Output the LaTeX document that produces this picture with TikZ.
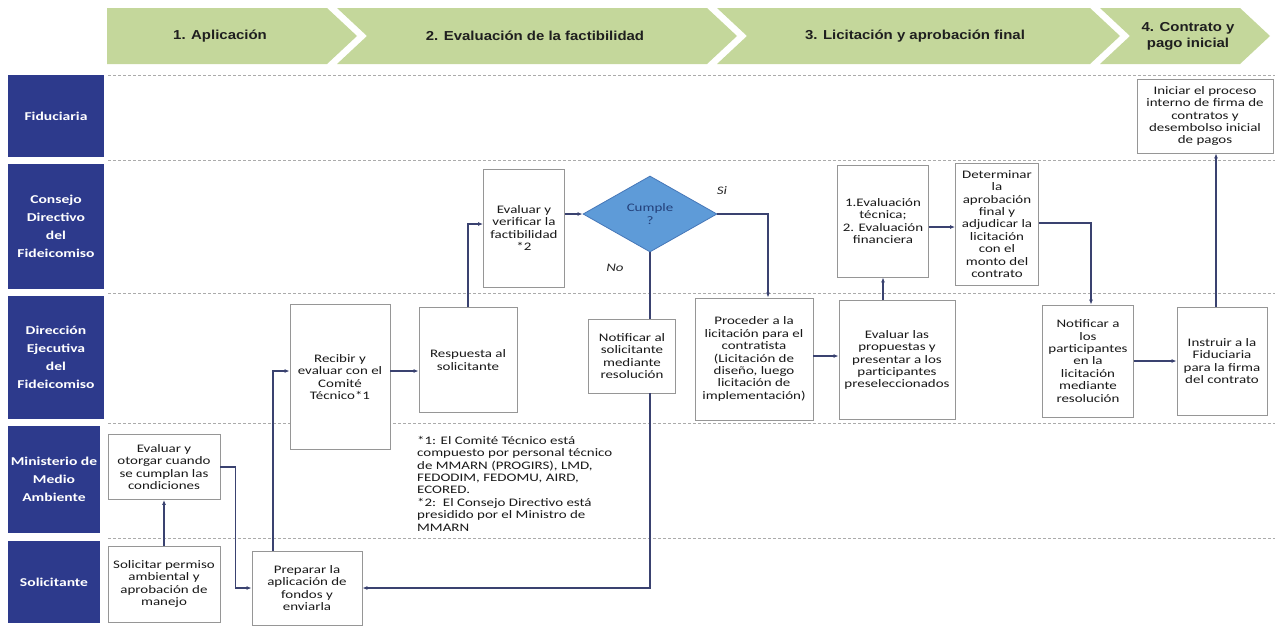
\documentclass[tikz,border=0pt]{standalone}
\usepackage{fontspec}
\setmainfont{Carlito}[FakeStretch=1.3]
\newfontfamily\headfont{Liberation Sans}[FakeStretch=1.15]
\usepackage{tikz}
\usetikzlibrary{shapes.geometric,arrows.meta}
\definecolor{lanenavy}{HTML}{2D3A8C}
\definecolor{phasegreen}{HTML}{C4D79B}
\definecolor{boxgray}{HTML}{969696}
\definecolor{linenavy}{HTML}{3A4270}
\definecolor{sepgray}{HTML}{ABABAB}
\definecolor{diafill}{HTML}{5E9BD8}
\definecolor{diadraw}{HTML}{4677B8}
\definecolor{diatext}{HTML}{23407A}
\newcommand{\boxtxt}{\fontsize{11.5}{12.4}\selectfont}
\newcommand{\lanetxt}{\bfseries\fontsize{12}{18}\selectfont}
\newcommand{\phasetxt}{\headfont\bfseries\fontsize{13}{16}\selectfont}

\begin{document}
\begin{tikzpicture}[
        x=1pt, y=-1pt,
        >={Latex[length=5pt,width=4pt]}
    ]
    \tikzstyle{box}=[draw=boxgray,line width=0.8pt,fill=white,align=center,inner sep=1pt,font=\boxtxt,text=black!90];
    \tikzstyle{lane}=[fill=lanenavy,text=white,align=center,inner sep=1pt,font=\lanetxt];
    \tikzstyle{phase}=[align=center,font=\phasetxt,text=black!88];
    \tikzstyle{lanesep}=[draw=sepgray,line width=0.8pt,dash pattern=on 3pt off 2pt];
    \tikzstyle{arr}=[->,draw=linenavy,line width=1.1pt];
    \useasboundingbox (0,0) rectangle (1275,627);
    % phases
    \fill[phasegreen] (107,8) -- (327,8) -- (357,36) -- (327,64) -- (107,64) -- cycle;
    \fill[phasegreen] (337,8) -- (707,8) -- (737,36) -- (707,64) -- (337,64) -- (367,36) -- cycle;
    \fill[phasegreen] (717,8) -- (1090,8) -- (1120,36) -- (1090,64) -- (717,64) -- (747,36) -- cycle;
    \fill[phasegreen] (1100,8) -- (1240,8) -- (1270,36) -- (1240,64) -- (1100,64) -- (1130,36) -- cycle;
    \node[phase] (ph1) at (220,36) {1. Aplicación};
    \node[phase] (ph2) at (535,36) {2. Evaluación de la factibilidad};
    \node[phase] (ph3) at (915,36) {3. Licitación y aprobación final};
    \node[phase] (ph4) at (1188,36) {4. Contrato y\\pago inicial};
    % lanes
    \node[lane,minimum width=96pt,minimum height=82pt] (fid) at (56,116) {Fiduciaria};
    \node[lane,minimum width=96pt,minimum height=125pt] (consejo) at (56,226.5) {Consejo\\Directivo\\del\\Fideicomiso};
    \node[lane,minimum width=96pt,minimum height=123pt] (direccion) at (56,357.5) {Dirección\\Ejecutiva\\del\\Fideicomiso};
    \node[lane,minimum width=92pt,minimum height=107pt] (ministerio) at (54,479.5) {Ministerio de\\Medio\\Ambiente};
    \node[lane,minimum width=92pt,minimum height=82pt] (solicitante) at (54,582) {Solicitante};
    \draw[lanesep] (108,75) -- (1275,75) (108,160) -- (1275,160) (108,293) -- (1275,293) (108,423) -- (1275,423) (108,538) -- (1275,538);
    % steps
    \node[box,minimum width=112pt,minimum height=76pt] (solicitar) at (164,584) {Solicitar permiso\\ambiental y\\aprobación de\\manejo};
    \node[box,minimum width=112pt,minimum height=65pt] (otorgar) at (164,467) {Evaluar y\\otorgar cuando\\se cumplan las\\condiciones};
    \node[box,minimum width=110pt,minimum height=74pt] (preparar) at (307,588) {Preparar la\\aplicación de\\fondos y\\enviarla};
    \node[box,minimum width=100pt,minimum height=145pt] (recibir) at (340,377) {Recibir y\\evaluar con el\\Comité\\Técnico*1};
    \node[box,minimum width=98pt,minimum height=105pt] (respuesta) at (468,360) {Respuesta al\\solicitante};
    \node[box,minimum width=81pt,minimum height=118pt] (verificar) at (524,228) {Evaluar y\\verificar la\\factibilidad\\*2};
    \node[diamond,draw=diadraw,fill=diafill,line width=0.8pt,minimum width=134pt,minimum height=76pt,inner sep=0pt,align=center,font=\boxtxt,text=diatext] (cumple) at (650,214) {Cumple\\?};
    \node[box,minimum width=87pt,minimum height=74pt] (notsol) at (632,356) {Notificar al\\solicitante\\mediante\\resolución};
    \node[box,minimum width=118pt,minimum height=122pt] (proceder) at (754,359) {Proceder a la\\licitación para el\\contratista\\(Licitación de\\diseño, luego\\licitación de\\implementación)};
    \node[box,minimum width=116pt,minimum height=119pt] (propuestas) at (897,360) {Evaluar las\\propuestas y\\presentar a los\\participantes\\preseleccionados};
    \node[box,minimum width=91pt,minimum height=112pt] (tecnica) at (883,221) {1.Evaluación\\técnica;\\2. Evaluación\\financiera};
    \node[box,minimum width=83pt,minimum height=122pt] (determinar) at (997,224) {Determinar\\la\\aprobación\\final y\\adjudicar la\\licitación\\con el\\monto del\\contrato};
    \node[box,minimum width=91pt,minimum height=112pt] (notpart) at (1088,361) {Notificar a\\los\\participantes\\en la\\licitación\\mediante\\resolución};
    \node[box,minimum width=90pt,minimum height=108pt] (instruir) at (1222,361) {Instruir a la\\Fiduciaria\\para la firma\\del contrato};
    \node[box,minimum width=136pt,minimum height=74pt] (iniciar) at (1205,116) {Iniciar el proceso\\interno de firma de\\contratos y\\desembolso inicial\\de pagos};
    % notes and answers
    \node[align=left,font=\boxtxt,text=black!90,inner sep=0pt,anchor=north west] (notas) at (417,436) {*1: El Comité Técnico está\\compuesto por personal técnico\\de MMARN (PROGIRS), LMD,\\FEDODIM, FEDOMU, AIRD,\\ECORED.\\*2:\ \ El Consejo Directivo está\\presidido por el Ministro de\\MMARN};
    \node[font=\boxtxt\itshape,text=black!85] (si) at (722,191) {Si};
    \node[font=\boxtxt\itshape,text=black!85] (no) at (615,268) {No};
    % flow
    \draw[arr] (solicitar) -- (otorgar);
    \draw[arr] (otorgar.east) -- ++(15,0) |- (preparar.west);
    \draw[arr] ([xshift=-34pt]preparar.north) |- ([yshift=6pt]recibir.west);
    \draw[arr] ([yshift=6pt]recibir.east) -- ([yshift=6pt]recibir.east -| respuesta.west);
    \draw[arr] (respuesta.north) |- ([yshift=4pt]verificar.west);
    \draw[arr] (verificar.east |- cumple.west) -- (cumple.west);
    \draw[linenavy,line width=1.1pt] (cumple.south) -- (cumple.south |- notsol.north);
    \draw[arr] (cumple.south |- notsol.south) |- (preparar.east);
    \draw[arr] (cumple.east) -| ([xshift=14pt]proceder.north);
    \draw[arr] ([yshift=3pt]proceder.east) -- ([yshift=3pt]proceder.east -| propuestas.west);
    \draw[arr] (tecnica.south |- propuestas.north) -- (tecnica.south);
    \draw[arr] ([yshift=-6pt]tecnica.east) -- ([yshift=-6pt]tecnica.east -| determinar.west);
    \draw[arr] ([yshift=1pt]determinar.east) -| ([xshift=3pt]notpart.north);
    \draw[arr] (notpart.east) -- (notpart.east -| instruir.west);
    \draw[arr] ([xshift=-6pt]instruir.north) -- ([xshift=-6pt]instruir.north |- iniciar.south);
\end{tikzpicture}
\end{document}
